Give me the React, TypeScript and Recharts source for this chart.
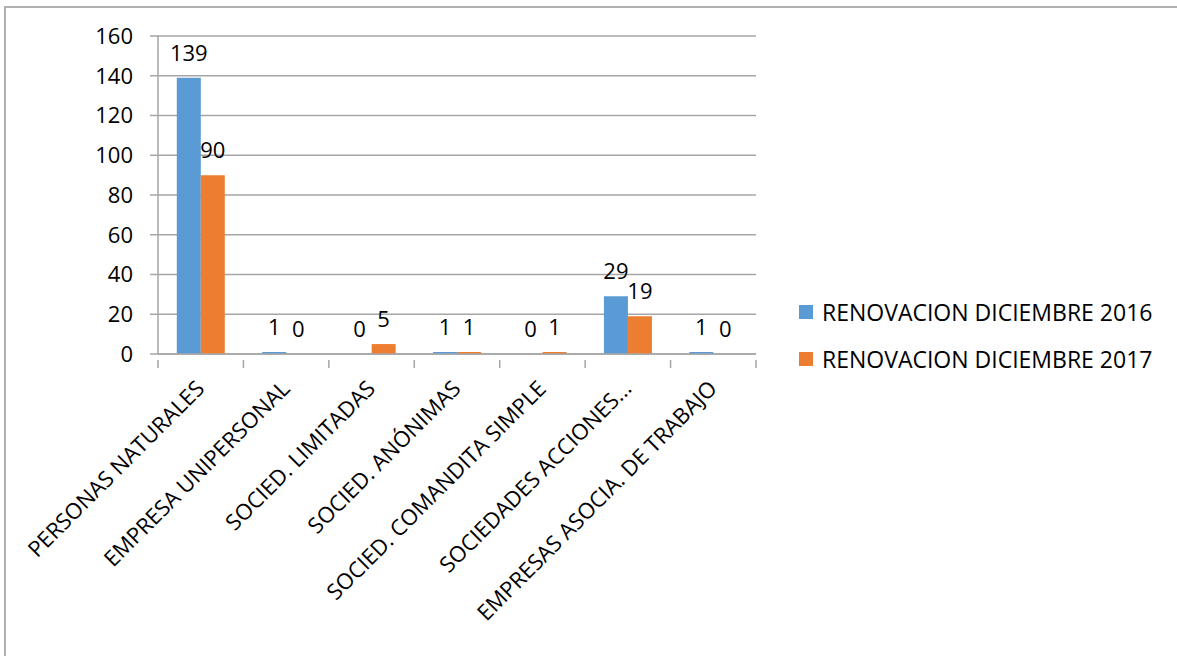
import React from "react";
import {
  BarChart,
  Bar,
  XAxis,
  YAxis,
  CartesianGrid,
  LabelList,
  Legend,
} from "recharts";

const categories = [
  "PERSONAS NATURALES",
  "EMPRESA UNIPERSONAL",
  "SOCIED. LIMITADAS",
  "SOCIED. ANÓNIMAS",
  "SOCIED. COMANDITA SIMPLE",
  "SOCIEDADES ACCIONES...",
  "EMPRESAS ASOCIA. DE TRABAJO",
];
const renov2016 = [139, 1, 0, 1, 0, 29, 1];
const renov2017 = [90, 0, 5, 1, 1, 19, 0];
const yTicks = [0, 20, 40, 60, 80, 100, 120, 140, 160];

const seriesNames = ["RENOVACION DICIEMBRE 2016", "RENOVACION DICIEMBRE 2017"];
const BLUE = "#5B9BD5";
const ORANGE = "#ED7D31";
const GRID = "#a6a6a6";
const FONT = "'Open Sans', sans-serif";

const W = 1177;
const H = 656;
const M = { top: 36, right: 421, bottom: 0, left: 0 };
const Y_W = 158;

// label fields are strings so that zero values still get a label
const data = categories.map((name, i) => ({
  name,
  a: renov2016[i],
  b: renov2017[i],
  aLabel: String(renov2016[i]),
  bLabel: String(renov2017[i]),
}));

// category labels at -45deg plus tick marks on the category boundaries
function CategoryTick(props: any) {
  const { x, y, payload, index } = props;
  const band = (W - M.right - Y_W) / categories.length;
  const half = payload && payload.offset ? payload.offset : band / 2;
  const axisY = y - 2;
  return (
    <g>
      <line x1={x - half} y1={axisY} x2={x - half} y2={axisY + 8} stroke={GRID} strokeWidth={1.5} />
      {index === categories.length - 1 && (
        <line x1={x + half} y1={axisY} x2={x + half} y2={axisY + 8} stroke={GRID} strokeWidth={1.5} />
      )}
      <text
        transform={`translate(${x + 5},${axisY + 30}) rotate(-45)`}
        textAnchor="end"
        fontSize={22}
        fontFamily={FONT}
        fill="#000"
      >
        {payload.value}
      </text>
    </g>
  );
}

// value label drawn above the bar top
function ValueLabel(props: any) {
  const { x, y, width, value } = props;
  return (
    <text
      x={x + width / 2}
      y={y - 17}
      textAnchor="middle"
      fontSize={22}
      fontFamily={FONT}
      fill="#000"
    >
      {value}
    </text>
  );
}

function LegendBox() {
  const colors = [BLUE, ORANGE];
  return (
    <div style={{ fontFamily: FONT, fontSize: 23, color: "#000" }}>
      {seriesNames.map((n, i) => (
        <div
          key={n}
          style={{ display: "flex", alignItems: "center", height: 47, whiteSpace: "nowrap" }}
        >
          <span
            style={{
              display: "inline-block",
              width: 14,
              height: 14,
              background: colors[i],
              marginRight: 9,
            }}
          />
          {n}
        </div>
      ))}
    </div>
  );
}

export default function App() {
  return (
    <div
      style={{
        position: "fixed",
        left: 0,
        top: 0,
        width: W,
        height: H,
        background: "#fff",
        overflow: "hidden",
      }}
    >
      <div
        style={{
          position: "absolute",
          left: 4,
          top: 6,
          width: W + 20,
          height: H + 20,
          borderTop: "2px solid #b0b0b0",
          borderLeft: "2px solid #b0b0b0",
        }}
      />
      <div style={{ position: "absolute", left: 0, top: 0 }}>
        <BarChart
          width={W}
          height={H}
          data={data}
          margin={M}
          barCategoryGap="22%"
          barGap={0}
        >
          <CartesianGrid vertical={false} stroke={GRID} strokeWidth={1.5} />
          <XAxis
            dataKey="name"
            interval={0}
            height={302}
            axisLine={{ stroke: GRID, strokeWidth: 1.5 }}
            tickLine={false}
            tick={<CategoryTick />}
          />
          <YAxis
            width={Y_W}
            domain={[0, 160]}
            ticks={yTicks}
            interval={0}
            axisLine={{ stroke: GRID, strokeWidth: 1.5 }}
            tickLine={{ stroke: GRID, strokeWidth: 1.5 }}
            tickSize={8}
            tickMargin={17}
            tick={{ fill: "#000", fontSize: 22, fontFamily: FONT }}
          />
          <Legend
            layout="vertical"
            align="center"
            verticalAlign="middle"
            content={<LegendBox />}
            wrapperStyle={{ left: 799, top: 288, width: 375 }}
          />
          {/* tiny minPointSize keeps zero bars (and their labels) in the render */}
          <Bar dataKey="a" name={seriesNames[0]} fill={BLUE} minPointSize={0.01} isAnimationActive={false}>
            <LabelList dataKey="aLabel" content={<ValueLabel />} />
          </Bar>
          <Bar dataKey="b" name={seriesNames[1]} fill={ORANGE} minPointSize={0.01} isAnimationActive={false}>
            <LabelList dataKey="bLabel" content={<ValueLabel />} />
          </Bar>
        </BarChart>
      </div>
    </div>
  );
}
